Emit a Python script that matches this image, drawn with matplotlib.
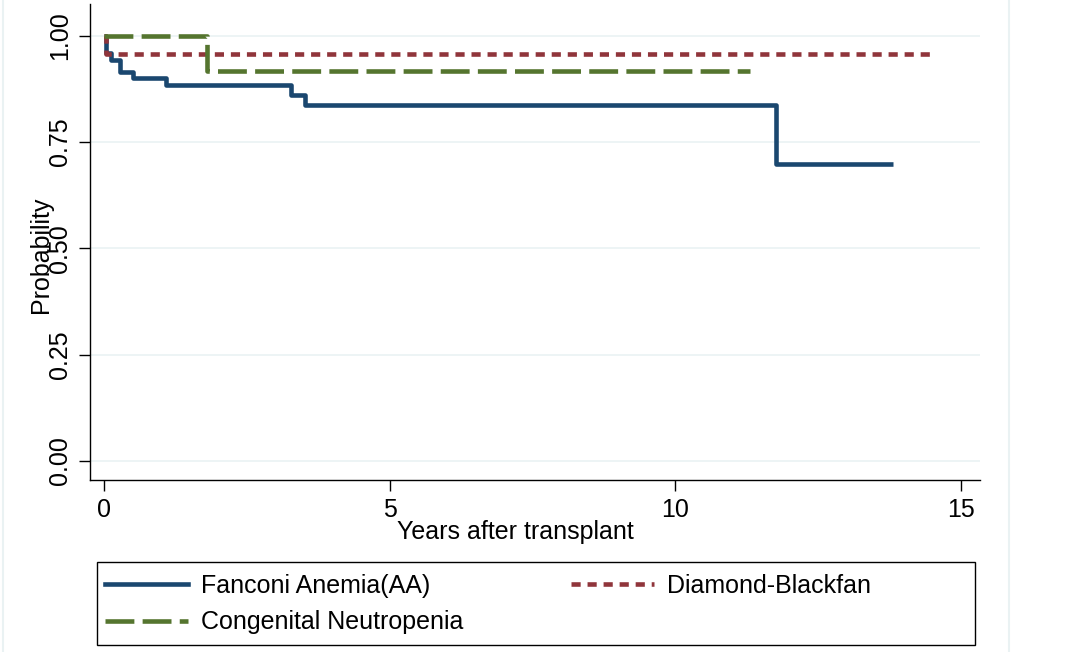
import matplotlib
matplotlib.use("Agg")
import matplotlib.pyplot as plt
from matplotlib.lines import Line2D
from matplotlib.patches import Rectangle

plt.rcParams['font.family'] = ['Liberation Sans', 'DejaVu Sans']

# Kaplan-Meier style step curves
fa_years = [0, 0.03, 0.13, 0.28, 0.50, 1.09, 3.28, 3.52, 11.76, 13.81]
fa_prob = [1.0, 0.959, 0.944, 0.914, 0.900, 0.884, 0.861, 0.838, 0.698, 0.698]

db_years = [0, 0.04, 14.45]
db_prob = [1.0, 0.957, 0.957]

cn_years = [0, 1.80, 11.30]
cn_prob = [1.0, 0.918, 0.918]

labels = ["Fanconi Anemia(AA)", "Diamond-Blackfan", "Congenital Neutropenia"]
x_ticks = [0, 5, 10, 15]
y_ticks = [0.0, 0.25, 0.5, 0.75, 1.0]

navy = "#1a476f"
maroon = "#90353b"
green = "#55752f"
grid_col = "#eaf2f3"

W, H = 1089, 652
fig = plt.figure(figsize=(W / 100, H / 100), dpi=100)
ax = fig.add_axes([90 / W, 1 - 480 / H, 890 / W, 476 / H])

lw = 3.3
red_dash = (2.0, 1.5)
green_dash = (6.3, 1.8)
ax.plot(fa_years, fa_prob, drawstyle='steps-post', color=navy, lw=lw,
        solid_joinstyle='round', solid_capstyle='butt', zorder=3)
ax.plot(db_years, db_prob, drawstyle='steps-post', color=maroon, lw=lw,
        dashes=red_dash, zorder=4)
ax.plot(cn_years, cn_prob, drawstyle='steps-post', color=green, lw=lw,
        dashes=green_dash, zorder=5)

ax.set_xlim(-0.245, 15.33)
ax.set_ylim(-0.045, 1.075)
ax.set_xticks(x_ticks)
ax.set_yticks(y_ticks)
ax.set_yticklabels([f"{v:.2f}" for v in y_ticks], rotation=90, va='center')
ax.tick_params(labelsize=18, length=8, width=1, direction='out', color='black', pad=5)
ax.grid(axis='y', color=grid_col, lw=1.2)
ax.set_axisbelow(True)
for side in ['top', 'right']:
    ax.spines[side].set_visible(False)
for side in ['left', 'bottom']:
    ax.spines[side].set_linewidth(1)

ax.set_xlabel("Years after transplant", fontsize=18)
ax.xaxis.set_label_coords(0.4775, -0.085)
ax.set_ylabel("Probability", fontsize=18)
ax.yaxis.set_label_coords(-0.042, 0.473)

handles = [
    Line2D([], [], color=navy, lw=lw),
    Line2D([], [], color=green, lw=lw, dashes=green_dash),
    Line2D([], [], color=maroon, lw=lw, dashes=red_dash),
]
leg = fig.legend(handles, [labels[0], labels[2], labels[1]], ncol=2,
                 loc='upper left', bbox_to_anchor=(105 / W, 1 - 574 / H),
                 fontsize=18, handlelength=3.3, frameon=False,
                 borderaxespad=0, borderpad=0, labelspacing=0.5,
                 handletextpad=0.55, columnspacing=4.3)

fig.add_artist(Rectangle((97 / W, 1 - 645 / H), 878 / W, 83 / H,
                         transform=fig.transFigure, fill=False,
                         edgecolor='black', lw=1))

# faint graph-region border
fig.add_artist(Line2D([3 / W, 3 / W], [0, 1], color=grid_col, lw=1.5))
fig.add_artist(Line2D([1009 / W, 1009 / W], [0, 1], color=grid_col, lw=1.5))

fig.savefig("out.png", dpi=100)
